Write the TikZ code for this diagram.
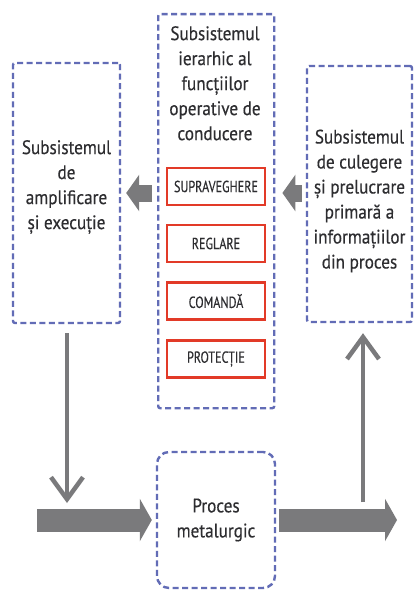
\documentclass[tikz,border=0pt]{standalone}
\usepackage{fontspec}
\setmainfont{PT Sans}
\newfontfamily\boxfont[FakeStretch=0.88,FakeBold=0.4]{PT Sans}
\newfontfamily\tagfont[FakeStretch=0.76,FakeBold=0.3]{PT Sans}
\usetikzlibrary{arrows.meta}
\definecolor{dashblue}{RGB}{98,108,182}
\definecolor{tagred}{RGB}{226,58,40}
\definecolor{flowgray}{RGB}{122,122,124}
\definecolor{txt}{RGB}{45,45,48}
\begin{document}
\begin{tikzpicture}[x=1pt,y=-1pt,
  sysfont/.style={font=\boxfont\fontsize{19.5}{25}\selectfont},
  systext/.style={text=txt, sysfont, align=center, inner sep=0pt},
  sysbox/.style={draw=dashblue, line width=2.4pt, dash pattern=on 6pt off 3.5pt,
    rounded corners=2pt, inner sep=0pt},
  tagbox/.style={draw=tagred, line width=2.8pt, minimum width=98pt, minimum height=37pt,
    text=txt, font=\tagfont\fontsize{16}{18}\selectfont, inner sep=0pt},
  bigflow/.style={draw=flowgray, line width=#1},
  thinflow/.style={draw=flowgray, line width=4.5pt,
    -{Straight Barb[length=22pt,width=32pt,line width=4.5pt]}}
]
\useasboundingbox (0,0) rectangle (416,591);
\fill[white] (0,0) rectangle (416,591);

% subsystem boxes
\node[sysbox, minimum width=116pt, minimum height=394pt, anchor=north west] (ctrl) at (157,13) {};
\node[systext, anchor=north] (ctrltxt) at (215,26)
  {Subsistemul\\ierarhic al\\funcțiilor\\operative de\\conducere};

\node[sysbox, minimum width=107pt, minimum height=260pt] (exec) at (66.5,193) {};
\node[systext] (exectxt) at (66.5,187) {Subsistemul\\de\\amplificare\\și execuție};

\node[sysbox, minimum width=105pt, minimum height=256pt] (info) at (359.5,194) {};
\node[systext] (infotxt) at (359.5,201)
  {Subsistemul\\de culegere\\și prelucrare\\primară a\\informațiilor\\din proces};

\node[sysbox, rounded corners=12pt, minimum width=118pt, minimum height=136pt] (proc) at (216,520) {};
\node[systext] (proctxt) at (216,520) {Proces\\metalurgic};

% functions of the control subsystem
\node[tagbox] (sup) at (216,186.5) {SUPRAVEGHERE};
\node[tagbox] (reg) at (216,243.5) {REGLARE};
\node[tagbox] (com) at (216,301) {COMANDĂ};
\node[tagbox] (pro) at (216,359) {PROTECȚIE};

% information flow between subsystems
\draw[bigflow=17pt, -{Triangle[length=13pt,width=36pt]}, shorten <=5pt, shorten >=5pt]
  (ctrl.west |- 0,193) -- (exec.east |- 0,193);
\draw[bigflow=17pt, -{Triangle[length=13pt,width=36pt]}, shorten <=4pt, shorten >=7pt]
  (info.west |- 0,193) -- (ctrl.east |- 0,193);

% material flow through the process
\coordinate (in) at (37,520);
\coordinate (out) at (397,520);
\draw[bigflow=23pt, -{Triangle[length=12pt,width=42pt]}, shorten >=4pt] (in) -- (proc.west);
\draw[bigflow=23pt, -{Triangle[length=12pt,width=42pt]}, shorten <=3pt] (proc.east) -- (out);

% command and measurement paths
\coordinate (act) at (67,503);
\coordinate (meas) at (363,502);
\draw[thinflow, shorten <=9pt] (exec.south -| act) -- (act);
\draw[thinflow, shorten >=10pt] (meas) -- (meas |- info.south);
\end{tikzpicture}
\end{document}
